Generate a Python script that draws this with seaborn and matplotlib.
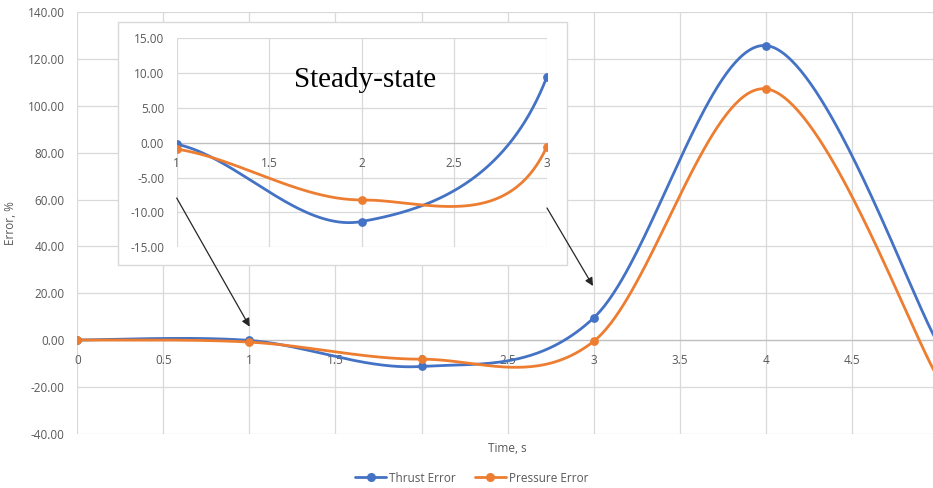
import numpy as np
import pandas as pd
import matplotlib
matplotlib.use("Agg")
import matplotlib.pyplot as plt
import seaborn as sns
from matplotlib.patches import Rectangle, FancyArrowPatch
from matplotlib.lines import Line2D
from matplotlib.ticker import FuncFormatter

# ---- data ----
time_s = [0, 1, 2, 3, 4, 5]
thrust_error = [0.0, -0.2, -11.3, 9.4, 125.8, -1.3]
pressure_error = [0.0, -0.9, -8.2, -0.6, 107.3, -16.0]
series_names = ["Thrust Error", "Pressure Error"]
series_colors = ["#4472C4", "#ED7D31"]

main_xticks = [0, 0.5, 1, 1.5, 2, 2.5, 3, 3.5, 4, 4.5]
main_yticks = [-40, -20, 0, 20, 40, 60, 80, 100, 120, 140]
inset_xticks = [1, 1.5, 2, 2.5, 3]
inset_yticks = [-15, -10, -5, 0, 5, 10, 15]
inset_title = "Steady-state"
x_title = "Time, s"
y_title = "Error, %"

sns.set_style("white")
plt.rcParams["font.family"] = ["Open Sans", "DejaVu Sans"]

TXT = "#595959"
GRID = "#d9d9d9"
AXIS = "#bfbfbf"
FS = 8.5

W, H = 933, 488
fig = plt.figure(figsize=(W / 100, H / 100), dpi=100)


def px_box(x0, y0, x1, y1):
    """Pixel box (top-left origin) -> figure fraction rect."""
    return [x0 / W, 1 - y1 / H, (x1 - x0) / W, (y1 - y0) / H]


def smooth_curve(ax, xs, ys, n=80):
    """Cubic Bezier smoothing computed in screen space (Catmull-Rom tangents,
    control arms limited to half of the segment length)."""
    pts = ax.transData.transform(np.column_stack([xs, ys]).astype(float))
    m = len(pts)
    parts = []
    t = np.linspace(0, 1, n)[:, None]
    for i in range(m - 1):
        p0, p1 = pts[i], pts[i + 1]
        prev = pts[i - 1] if i > 0 else p0
        nxt = pts[i + 2] if i + 2 < m else p1
        lim = 0.5 * np.hypot(*(p1 - p0))
        d1 = (p1 - prev) / 6.0
        d2 = (nxt - p0) / 6.0
        L1, L2 = np.hypot(*d1), np.hypot(*d2)
        if L1 > lim:
            d1 = d1 * lim / L1
        if L2 > lim:
            d2 = d2 * lim / L2
        c1, c2 = p0 + d1, p1 - d2
        b = ((1 - t) ** 3) * p0 + 3 * t * (1 - t) ** 2 * c1 + 3 * t ** 2 * (1 - t) * c2 + t ** 3 * p1
        parts.append(b if i == 0 else b[1:])
    curve = ax.transData.inverted().transform(np.vstack(parts))
    return pd.DataFrame({"x": curve[:, 0], "y": curve[:, 1]})


def style_axes(ax, xticks, yticks, xlim, ylim):
    ax.set_xlim(*xlim)
    ax.set_ylim(*ylim)
    ax.set_xticks(xticks)
    ax.set_yticks(yticks)
    ax.grid(True, color=GRID, lw=0.9)
    ax.set_axisbelow(True)
    for s in ("top", "right", "left"):
        ax.spines[s].set_visible(False)
    ax.spines["bottom"].set_position(("data", 0))
    ax.spines["bottom"].set_color(AXIS)
    ax.spines["bottom"].set_linewidth(0.9)
    ax.spines["bottom"].set_zorder(1.5)
    ax.tick_params(axis="both", length=0, labelsize=FS, labelcolor=TXT)
    ax.tick_params(axis="x", pad=10)
    ax.tick_params(axis="y", pad=9)
    ax.yaxis.set_major_formatter(FuncFormatter(lambda v, p: f"{v:.2f}"))
    ax.xaxis.set_major_formatter(FuncFormatter(lambda v, p: f"{v:g}"))
    ax.set_xlabel("")
    ax.set_ylabel("")


def draw_series(ax, ms, lw):
    for vals, color in zip([thrust_error, pressure_error], series_colors):
        df = smooth_curve(ax, time_s, vals)
        sns.lineplot(data=df, x="x", y="y", sort=False, estimator=None,
                     color=color, lw=lw, ax=ax, zorder=3)
        sns.scatterplot(x=time_s, y=vals, color=color, s=ms, edgecolor=color,
                        linewidth=0, ax=ax, zorder=4)


# ---- main chart ----
ax = fig.add_axes(px_box(77.3, 12.3, 937.8, 433.6))
ax.set_facecolor("white")
style_axes(ax, main_xticks, main_yticks, (0, 5), (-40, 140))
draw_series(ax, 40, 2.0)
ax.set_xlabel("")
ax.set_ylabel("")

fig.text(507.5 / W, 1 - 448 / H, x_title, ha="center", va="center",
         fontsize=FS, color=TXT)
fig.text(11 / W, 1 - 223 / H, y_title, ha="center", va="center",
         rotation=90, fontsize=FS, color=TXT)

# ---- inset chart ----
box = Rectangle((118.3 / W, 1 - 265 / H), (567.3 - 118.3) / W, (265 - 21.7) / H,
                transform=fig.transFigure, facecolor="white", edgecolor=GRID,
                lw=1.0, zorder=1)
fig.add_artist(box)

axi = fig.add_axes(px_box(176.7, 38.3, 546.7, 247.3), zorder=2)
axi.set_facecolor("white")
axi.patch.set_alpha(0)
style_axes(axi, inset_xticks, inset_yticks, (1, 3), (-15, 15))
draw_series(axi, 40, 2.0)
axi.set_xlabel("")
axi.set_ylabel("")
axi.text((365 - 176.7) / 370, (247.3 - 80) / 209, inset_title,
         transform=axi.transAxes, ha="center", va="center",
         fontsize=21, family=["Liberation Serif"], color="black", zorder=5)

# ---- arrows ----
for (xa, ya), (xb, yb) in [((176.7, 198), (249.7, 326.7)), ((547, 208), (593, 286))]:
    arr = FancyArrowPatch((xa / W, 1 - ya / H), (xb / W, 1 - yb / H),
                          transform=fig.transFigure, arrowstyle="-|>",
                          mutation_scale=12, lw=0.9, color="#262626",
                          shrinkA=0, shrinkB=0, zorder=6)
    fig.add_artist(arr)

# ---- legend ----
handles = [Line2D([0], [0], color=c, lw=2.0, marker="o", markersize=5.5)
           for c in series_colors]
fig.legend(handles, series_names, loc="center", bbox_to_anchor=(472 / W, 1 - 478 / H),
           ncol=2, frameon=False, fontsize=FS, labelcolor=TXT,
           handlelength=2.6, handletextpad=0.3, columnspacing=1.6)

fig.savefig("out.png", dpi=100)
